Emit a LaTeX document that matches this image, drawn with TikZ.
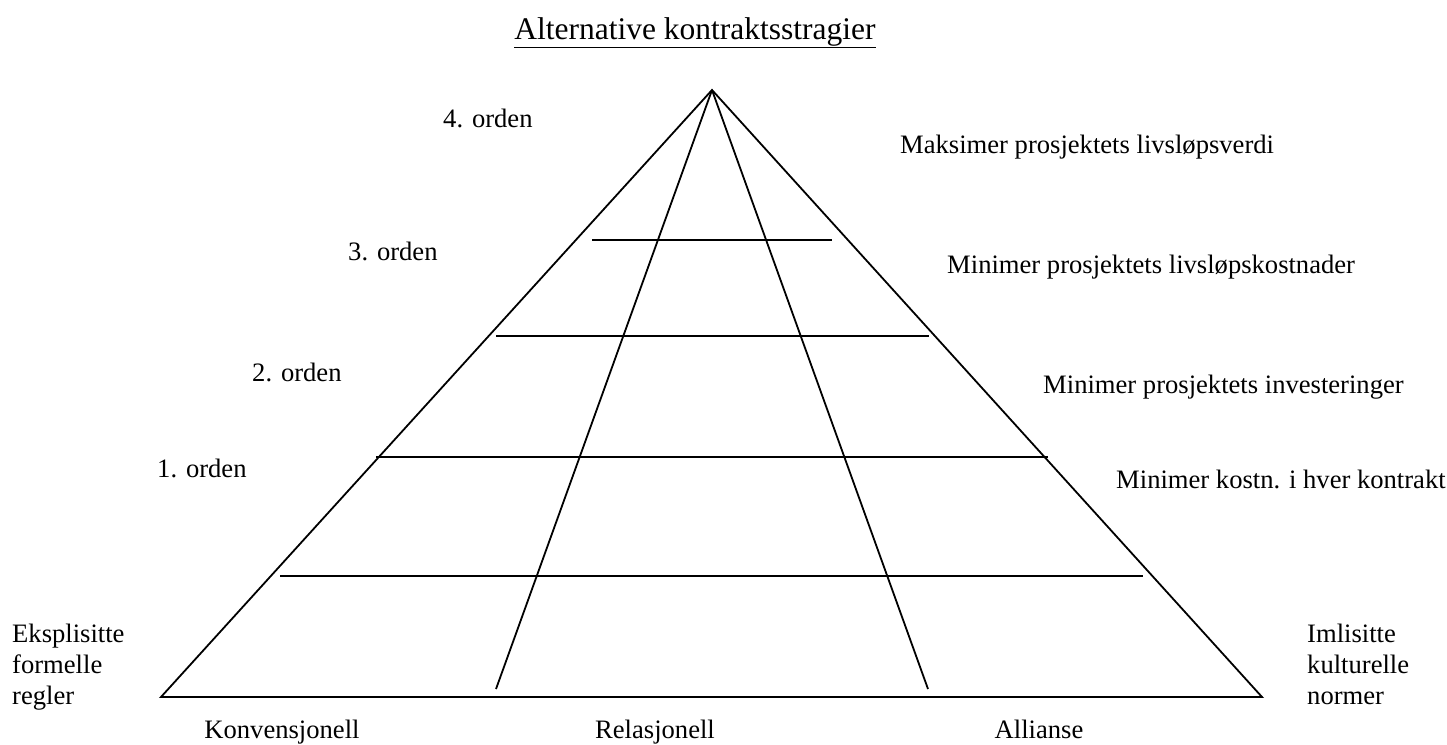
\documentclass[tikz,border=0pt]{standalone}
\usepackage{fontspec}
\setmainfont{Liberation Serif}
\begin{document}
\begin{tikzpicture}[x=1pt,y=-1pt,
  lbl/.style={inner sep=0pt,anchor=base west,font=\fontsize{26.6}{30.6}\selectfont},
  lblc/.style={inner sep=0pt,anchor=base,font=\fontsize{26.6}{30.6}\selectfont},
  edge/.style={line width=1.8pt},
  tier/.style={line width=1.8pt}]
\useasboundingbox (0,0) rectangle (1447,744);
% title
\node[inner sep=0pt,anchor=base,font=\fontsize{31.5}{36}\selectfont] (title) at (695,39) {\underline{Alternative kontraktsstragier}};
% pyramid
\coordinate (apex) at (712,90);
\coordinate (bl) at (161,697);
\coordinate (br) at (1262,697);
\coordinate (il) at (496,689);
\coordinate (ir) at (928,689);
\draw[edge] (bl) -- (apex) -- (br) -- cycle;
\draw[edge] (apex) -- (il);
\draw[edge] (apex) -- (ir);
% tiers
\coordinate (t1a) at (592,240); \coordinate (t1b) at (832,240);
\coordinate (t2a) at (496,336); \coordinate (t2b) at (929,336);
\coordinate (t3a) at (376,457); \coordinate (t3b) at (1048,457);
\coordinate (t4a) at (280,576); \coordinate (t4b) at (1143,576);
\draw[tier] (t1a) -- (t1b);
\draw[tier] (t2a) -- (t2b);
\draw[tier] (t3a) -- (t3b);
\draw[tier] (t4a) -- (t4b);
% left labels
\node[lbl] (o4) at (443,127) {4. orden};
\node[lbl] (o3) at (348,260) {3. orden};
\node[lbl] (o2) at (252,381) {2. orden};
\node[lbl] (o1) at (157,477) {1. orden};
% right labels
\node[lbl] (r4) at (900,153) {Maksimer prosjektets livsløpsverdi};
\node[lbl] (r3) at (947,273) {Minimer prosjektets livsløpskostnader};
\node[lbl] (r2) at (1043,393) {Minimer prosjektets investeringer};
\node[lbl] (r1) at (1116,488) {Minimer kostn. i hver kontrakt};
% corner labels
\node[lbl] (eks1) at (12,642) {Eksplisitte};
\node[lbl] (eks2) at (12,673) {formelle};
\node[lbl] (eks3) at (12,704) {regler};
\node[lbl] (iml1) at (1307,642) {Imlisitte};
\node[lbl] (iml2) at (1307,673) {kulturelle};
\node[lbl] (iml3) at (1307,704) {normer};
% bottom labels
\node[lblc] (konv) at (282,738) {Konvensjonell};
\node[lblc] (rel) at (655,738) {Relasjonell};
\node[lblc] (all) at (1039,738) {Allianse};
\end{tikzpicture}
\end{document}
